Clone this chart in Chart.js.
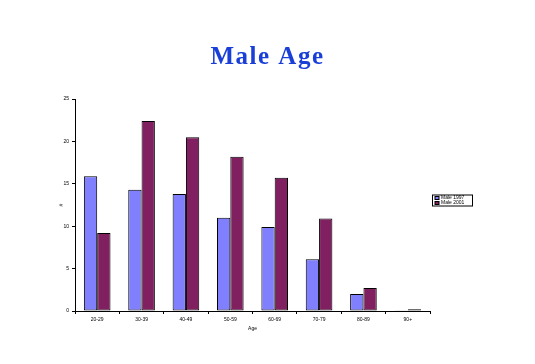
<!DOCTYPE html>
<html>
<head>
<meta charset="utf-8">
<script src="https://cdn.jsdelivr.net/npm/chart.js@4/dist/chart.umd.min.js"></script>
<style>
  html, body { margin: 0; padding: 0; background: #fff; }
  #wrap { width: 535px; height: 364px; }
</style>
</head>
<body>
<div id="wrap"><canvas id="chart"></canvas></div>
<script>
// values
const ageGroups = ['20-29', '30-39', '40-49', '50-59', '60-69', '70-79', '80-89', '90+'];
const seriesA = [15.9, 14.3, 13.8, 11.0, 9.9, 6.1, 2.0, 0.1];
const seriesB = [9.2, 22.4, 20.5, 18.2, 15.7, 10.9, 2.7, 0.2];
const seriesNames = ['Male 1997', 'Male 2001'];
const yTicks = [0, 5, 10, 15, 20, 25];
const chartTitle = 'Male Age';

const tinyFont = { family: 'Liberation Sans', size: 5 };

// title centred over the whole page, not just the plot
const pageTitle = {
    id: 'pageTitle',
    afterDraw: function(chart) {
        const ctx = chart.ctx;
        ctx.save();
        ctx.font = 'bold 25px "Liberation Serif"';
        ctx.letterSpacing = '1.5px';
        ctx.fillStyle = '#1a3fd8';
        ctx.textAlign = 'center';
        ctx.textBaseline = 'alphabetic';
        ctx.fillText(chartTitle, chart.width / 2, 64);
        ctx.restore();
    }
};

// small boxed legend to the right of the plot, like the original
const boxLegend = {
    id: 'boxLegend',
    afterDraw: function(chart) {
        const ctx = chart.ctx;
        const area = chart.chartArea;
        const sets = chart.data.datasets;
        const w = 40, rowH = 5;
        const h = sets.length * rowH + 1;
        const x = area.right + 2;
        const y = (area.top + area.bottom) / 2 - h / 2 - 5;
        ctx.save();
        ctx.strokeStyle = '#000';
        ctx.lineWidth = 1;
        ctx.strokeRect(x + 0.5, y + 0.5, w, h);
        ctx.font = '5px "Liberation Sans"';
        ctx.textBaseline = 'middle';
        sets.forEach(function(ds, i) {
            const cy = y + 1 + rowH * i + rowH / 2;
            ctx.fillStyle = ds.backgroundColor;
            ctx.fillRect(x + 3, cy - 1.5, 4, 3);
            ctx.strokeRect(x + 3, cy - 1.5, 4, 3);
            ctx.fillStyle = '#000';
            ctx.fillText(ds.label, x + 9, cy);
        });
        ctx.restore();
    }
};

new Chart(document.getElementById('chart'), {
    type: 'bar',
    data: {
        labels: ageGroups,
        datasets: [
            {
                label: seriesNames[0],
                data: seriesA,
                backgroundColor: 'rgb(128,128,255)',
                borderColor: '#000',
                borderWidth: 1,
                borderSkipped: false
            },
            {
                label: seriesNames[1],
                data: seriesB,
                backgroundColor: 'rgb(128,32,96)',
                borderColor: '#000',
                borderWidth: 1,
                borderSkipped: false
            }
        ]
    },
    options: {
        responsive: true,
        maintainAspectRatio: false,
        animation: false,
        layout: { padding: { left: 55, right: 105, top: 99, bottom: 30 } },
        datasets: { bar: { barPercentage: 1.0, categoryPercentage: 0.6 } },
        plugins: {
            legend: { display: false },
            tooltip: { enabled: false },
            title: { display: false }
        },
        scales: {
            x: {
                grid: { drawOnChartArea: false, drawTicks: true, tickLength: 3, color: '#000' },
                border: { color: '#000', width: 1 },
                ticks: { color: '#000', font: tinyFont, padding: 3, maxRotation: 0 },
                title: { display: true, text: 'Age', color: '#000', font: tinyFont, padding: 2 },
                afterFit: function(scale) { scale.height = 23; }
            },
            y: {
                min: 0,
                max: 25,
                afterBuildTicks: function(scale) {
                    scale.ticks = yTicks.map(function(v) { return { value: v }; });
                },
                grid: { drawOnChartArea: false, drawTicks: true, tickLength: 3, color: '#000' },
                border: { color: '#000', width: 1 },
                ticks: { color: '#000', font: tinyFont, padding: 3 },
                title: { display: true, text: '#', color: '#000', font: tinyFont, padding: { top: 4, bottom: 0 } },
                afterFit: function(scale) { scale.width = 20; }
            }
        }
    },
    plugins: [pageTitle, boxLegend]
});
</script>
</body>
</html>
